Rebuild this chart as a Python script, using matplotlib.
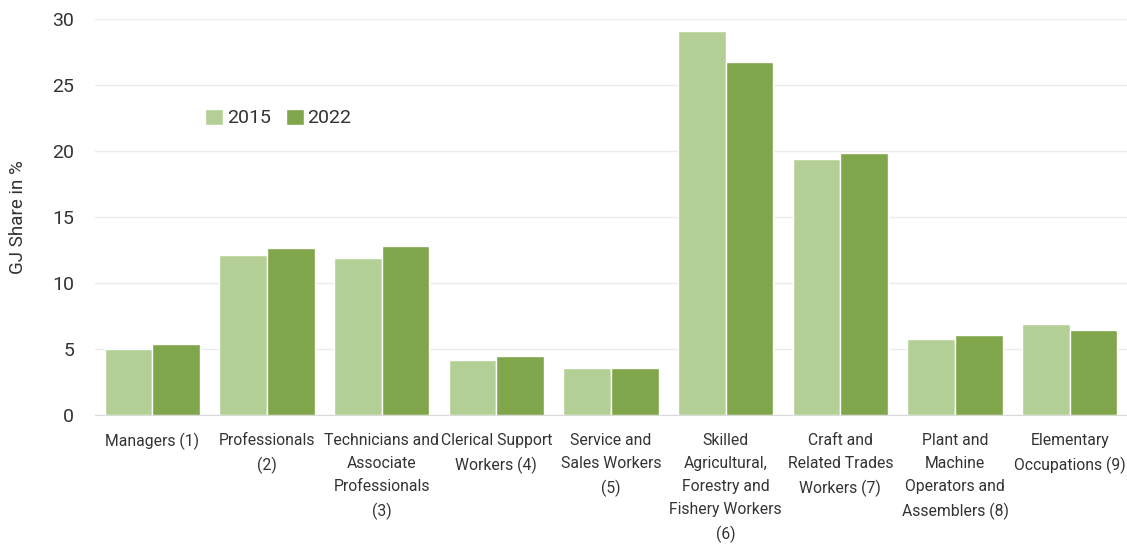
import numpy as np
import matplotlib.pyplot as plt

# occupation groups
categories = ['Managers (1)', 'Professionals\n(2)',
              'Technicians and\nAssociate\nProfessionals\n(3)',
              'Clerical Support\nWorkers (4)',
              'Service and\nSales Workers\n(5)',
              'Skilled\nAgricultural,\nForestry and\nFishery Workers\n(6)',
              'Craft and\nRelated Trades\nWorkers (7)',
              'Plant and\nMachine\nOperators and\nAssemblers (8)',
              'Elementary\nOccupations (9)']
share_2015 = [5.0, 12.15, 11.95, 4.15, 3.6, 29.15, 19.4, 5.75, 6.9]
share_2022 = [5.4, 12.7, 12.85, 4.45, 3.6, 26.8, 19.9, 6.05, 6.45]

plt.rcParams['font.family'] = ['Roboto', 'DejaVu Sans']

txt = '#333333'
fig = plt.figure(figsize=(11.27, 5.52), dpi=100)
ax = fig.add_axes([0.0843, 0.248, 0.9157, 0.7167])

x = np.arange(len(categories))
w = 0.415
ax.bar(x - w/2, share_2015, w, color='#b3cf95', edgecolor='white', linewidth=1, label='2015', zorder=3)
ax.bar(x + w/2, share_2022, w, color='#7fa64a', edgecolor='white', linewidth=1, label='2022', zorder=3)

ax.set_xlim(-0.5, len(categories) - 0.5)
ax.set_ylim(0, 30)
ax.set_yticks(range(0, 31, 5))
ax.yaxis.grid(True, color='#ebebeb', linewidth=1, zorder=0)
ax.set_axisbelow(True)
for s in ['top', 'right', 'left']:
    ax.spines[s].set_visible(False)
ax.spines['bottom'].set_color('#d9d9d9')
ax.tick_params(length=0, colors=txt, labelsize=14)
ax.tick_params(axis='y', pad=15)
ax.tick_params(axis='x', pad=13)
ax.set_xticks(x)
ax.set_xticklabels(categories, fontsize=11.3, color=txt, linespacing=1.65)
ax.set_ylabel('GJ Share in %', fontsize=13.5, color=txt, labelpad=18)

ax.legend(loc='center left', bbox_to_anchor=(0.09, 0.751), ncol=2, frameon=False,
          fontsize=14, handlelength=0.9, handleheight=0.9, handletextpad=0.2,
          columnspacing=0.8, labelcolor=txt)

fig.savefig('out.png', dpi=100)
